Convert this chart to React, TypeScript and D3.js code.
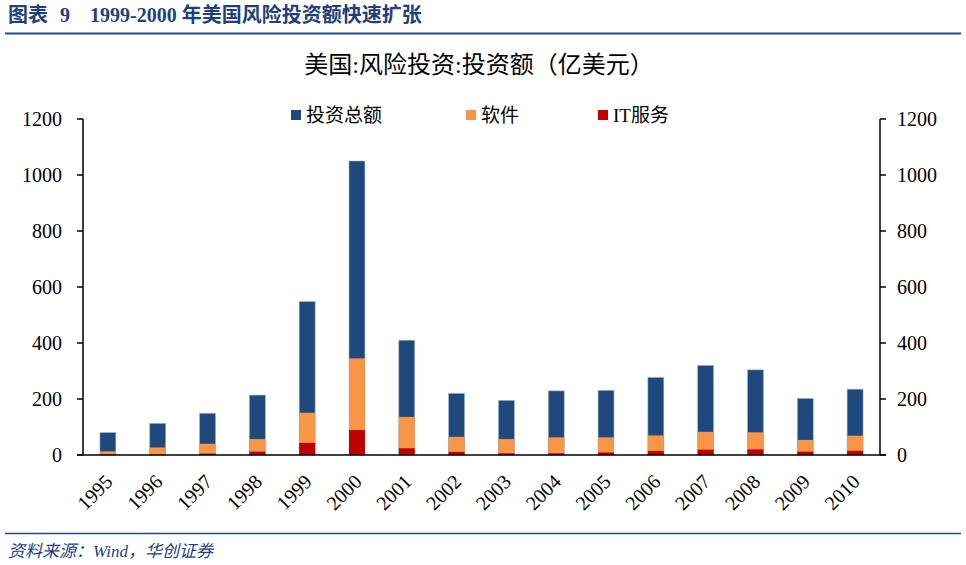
import React from "react";
import * as d3 from "d3";

const years = ["1995","1996","1997","1998","1999","2000","2001","2002","2003","2004","2005","2006","2007","2008","2009","2010"];
const totalValues = [80,113,149,214,548,1050,410,220,195,229,231,277,320,304,202,235];
const softwareValues = [13,27,40,57,151,345,136,65,57,63,63,70,83,81,54,69];
const itServiceValues = [2,1,5,12,43,89,24,11,6,6,9,14,19,20,12,15];
const yTicks = [0,200,400,600,800,1000,1200];
const seriesNames = ["投资总额","软件","IT服务"];
const seriesColors = ["#1F497D","#F79646","#C00000"];

export default function App() {
  const W = 966, H = 565;
  const left = 83, right = 880, top = 119, bottom = 455;
  const x = d3.scaleBand<string>().domain(years).range([left, right]).paddingInner(0.68).paddingOuter(0.34);
  const y = d3.scaleLinear().domain([0, 1200]).range([bottom, top]);
  const series = [totalValues, softwareValues, itServiceValues];
  const serif = "'Liberation Serif', 'Times New Roman', serif";
  const cjk = "'Liberation Serif', 'Noto Sans CJK SC', serif";
  const legendX = [291, 466, 598];
  return (
    <svg width={W} height={H} style={{ position: "absolute", left: 0, top: 0, background: "#fff" }}>
      <g fontFamily={cjk} fontWeight="bold" fontSize={20} fill="#1F3F80">
        <text x={8} y={22}>图表</text>
        <text x={60} y={22}>9</text>
        <text x={90} y={22}>1999-2000 年美国风险投资额快速扩张</text>
      </g>
      <line x1={5} x2={961} y1={33.5} y2={33.5} stroke="#1F4E8C" strokeWidth={2} />
      <text x={479} y={73} textAnchor="middle" fontFamily={cjk} fontSize={24} fill="#000">美国:风险投资:投资额（亿美元）</text>
      {seriesNames.map((n, i) => (
        <g key={n}>
          <rect x={legendX[i]} y={110} width={10} height={10} fill={seriesColors[i]} />
          <text x={legendX[i] + 15} y={122} fontFamily={cjk} fontSize={19} fill="#000">{n}</text>
        </g>
      ))}
      {series.map((vals, si) => (
        <g key={si}>
          {vals.map((v, i) => (
            <rect key={i} x={x(years[i])!} width={x.bandwidth()} y={y(v)} height={bottom - y(v)}
              fill={seriesColors[si]} stroke={si === 0 ? "#9fb3cf" : "none"} strokeWidth={0.6} />
          ))}
        </g>
      ))}
      <line x1={left} x2={left} y1={top} y2={bottom} stroke="#000" strokeWidth={1.5} />
      <line x1={right} x2={right} y1={top} y2={bottom} stroke="#000" strokeWidth={1.5} />
      <line x1={left - 6} x2={right + 6} y1={bottom} y2={bottom} stroke="#000" strokeWidth={1.5} />
      {yTicks.map(t => (
        <g key={t}>
          <line x1={left - 6} x2={left} y1={y(t)} y2={y(t)} stroke="#000" strokeWidth={1.5} />
          <line x1={right} x2={right + 6} y1={y(t)} y2={y(t)} stroke="#000" strokeWidth={1.5} />
          <text x={62} y={y(t) + 7} textAnchor="end" fontFamily={serif} fontSize={20} fill="#000">{t}</text>
          <text x={897} y={y(t) + 7} textAnchor="start" fontFamily={serif} fontSize={20} fill="#000">{t}</text>
        </g>
      ))}
      {years.map(yr => {
        const cx = x(yr)! + x.bandwidth() / 2 + 6;
        const cy = 483;
        return (
          <text key={yr} x={cx} y={cy} transform={`rotate(-45 ${cx} ${cy})`} textAnchor="end"
            fontFamily={serif} fontSize={20} fill="#000">{yr}</text>
        );
      })}
      <line x1={5} x2={961} y1={533.5} y2={533.5} stroke="#1F4E8C" strokeWidth={1.5} />
      <text x={8} y={557} fontFamily={cjk} fontStyle="italic" fontSize={17} fill="#1F3F80">资料来源：Wind，华创证券</text>
    </svg>
  );
}
